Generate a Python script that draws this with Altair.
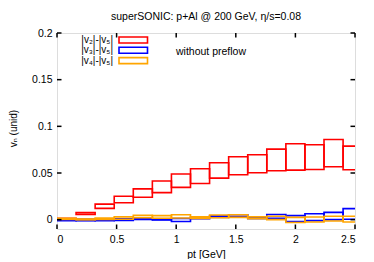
import altair as alt
import pandas as pd

# bin edges in pt [GeV]
bin_lo = [0.00, 0.16, 0.32, 0.48, 0.64, 0.80, 0.96, 1.12, 1.28, 1.44, 1.60, 1.76, 1.92, 2.08, 2.24, 2.40]
bin_hi = [0.16, 0.32, 0.48, 0.64, 0.80, 0.96, 1.12, 1.28, 1.44, 1.60, 1.76, 1.92, 2.08, 2.24, 2.40, 2.56]

# |v2|-|v5|
v2_lo = [0.0006, 0.0055, 0.0121, 0.0182, 0.0240, 0.0290, 0.0346, 0.0388, 0.0445, 0.0481, 0.0503, 0.0524, 0.0531, 0.0538, 0.0567, 0.0535]
v2_hi = [0.0014, 0.0075, 0.0167, 0.0251, 0.0330, 0.0415, 0.0490, 0.0546, 0.0610, 0.0674, 0.0695, 0.0756, 0.0813, 0.0802, 0.0859, 0.0788]
# |v3|-|v5|
v3_lo = [-0.0010, -0.0012, -0.0010, -0.0008, 0.0002, -0.0004, -0.0020, 0.0010, 0.0025, 0.0030, 0.0012, 0.0015, -0.0020, -0.0010, 0.0000, 0.0004]
v3_hi = [0.0008, 0.0005, 0.0004, 0.0010, 0.0018, 0.0010, 0.0012, 0.0024, 0.0040, 0.0052, 0.0028, 0.0055, 0.0043, 0.0064, 0.0078, 0.0118]
# |v4|-|v5|
v4_lo = [0.0003, -0.0002, 0.0002, 0.0005, 0.0020, 0.0015, 0.0018, 0.0012, 0.0020, 0.0025, 0.0010, 0.0000, -0.0030, -0.0025, -0.0014, -0.0025]
v4_hi = [0.0015, 0.0008, 0.0018, 0.0030, 0.0046, 0.0043, 0.0053, 0.0030, 0.0050, 0.0053, 0.0030, 0.0036, 0.0025, 0.0029, 0.0036, 0.0036]

series_names = ["|v₂|-|v₅|", "|v₃|-|v₅|", "|v₄|-|v₅|"]
series_colors = ["#ff0000", "#0000ff", "#ffa500"]

x_ticks = [0, 0.5, 1, 1.5, 2, 2.5]
y_ticks = [0, 0.05, 0.1, 0.15, 0.2]

FONT = "Liberation Sans, Arial, DejaVu Sans"
W, H = 298, 196

rows = []
for name, lo, hi in zip(series_names, [v2_lo, v3_lo, v4_lo], [v2_hi, v3_hi, v4_hi]):
    for a, b, l, h in zip(bin_lo, bin_hi, lo, hi):
        rows.append({"series": name, "x1": a, "x2": b, "y1": l, "y2": h})
df = pd.DataFrame(rows)

xs = alt.Scale(domain=[0, 2.5], nice=False, zero=False)
ys = alt.Scale(domain=[-0.01, 0.2], nice=False, zero=False)
cs = alt.Scale(domain=series_names, range=series_colors)

boxes = alt.Chart(df).mark_rect(filled=False, strokeWidth=1.6, clip=True).encode(
    x=alt.X("x1:Q", scale=xs,
            axis=alt.Axis(values=x_ticks, format="~g", title="pt [GeV]", ticks=False, tickSize=0,
                          domain=False, grid=False, labelPadding=5, labelFont=FONT, labelFontSize=10.5,
                          labelColor="black", titleFont=FONT, titleFontSize=10.5, titleFontWeight="normal",
                          titleColor="black", titleY=25, titleBaseline="middle")),
    x2="x2:Q",
    y=alt.Y("y1:Q", scale=ys,
            axis=alt.Axis(values=y_ticks, format="~g", title="vₙ (unid)", ticks=False, tickSize=0,
                          domain=False, grid=False, labelPadding=5, labelFont=FONT, labelFontSize=10.5,
                          labelColor="black", titleFont=FONT, titleFontSize=10, titleFontWeight="normal",
                          titleColor="black", titleX=-44, titleY=95, titleBaseline="middle")),
    y2="y2:Q",
    color=alt.Color("series:N", scale=cs, legend=None),
    order=alt.Order("series:N"),
)

xt = pd.DataFrame({"t": x_ticks})
yt = pd.DataFrame({"t": y_ticks})
tick_style = dict(color="black", strokeWidth=1.5)
ticks_bottom = alt.Chart(xt).mark_rule(**tick_style).encode(
    x=alt.X("t:Q", scale=xs), y=alt.value(H), y2=alt.value(H - 4.5))
ticks_top = alt.Chart(xt).mark_rule(**tick_style).encode(
    x=alt.X("t:Q", scale=xs), y=alt.value(0), y2=alt.value(4.5))
ticks_left = alt.Chart(yt).mark_rule(**tick_style).encode(
    y=alt.Y("t:Q", scale=ys), x=alt.value(0), x2=alt.value(4.5))
ticks_right = alt.Chart(yt).mark_rule(**tick_style).encode(
    y=alt.Y("t:Q", scale=ys), x=alt.value(W), x2=alt.value(W - 4.5))

legend_layers = []
for i, (name, col) in enumerate(zip(series_names, series_colors)):
    yc = 7 + i * 10.3
    one = pd.DataFrame({"label": [name]})
    legend_layers.append(
        alt.Chart(one).mark_text(align="right", baseline="middle", font=FONT, fontSize=10, color="black").encode(
            text="label:N", x=alt.value(56), y=alt.value(yc)))
    legend_layers.append(
        alt.Chart(one).mark_rect(filled=False, stroke=col, strokeWidth=1.6).encode(
            x=alt.value(62), x2=alt.value(90.5), y=alt.value(yc - 3), y2=alt.value(yc + 3)))

note = alt.Chart(pd.DataFrame({"t": ["without preflow"]})).mark_text(
    align="left", baseline="middle", font=FONT, fontSize=10.5, color="black").encode(
    text="t:N", x=alt.value(119), y=alt.value(19))

chart = alt.layer(boxes, ticks_bottom, ticks_top, ticks_left, ticks_right, *legend_layers, note).properties(
    width=W, height=H,
    title=alt.TitleParams("superSONIC: p+Al @ 200 GeV, η/s=0.08", font=FONT, fontSize=10.5,
                          fontWeight="normal", color="black", anchor="middle", offset=6),
    autosize=alt.AutoSizeParams(type="none"),
    padding={"left": 49, "top": 25, "right": 10, "bottom": 30},
).configure_view(stroke="black", strokeWidth=2).configure(background="white")

chart.save("out.html", embed_options={"renderer": "svg", "actions": False})
